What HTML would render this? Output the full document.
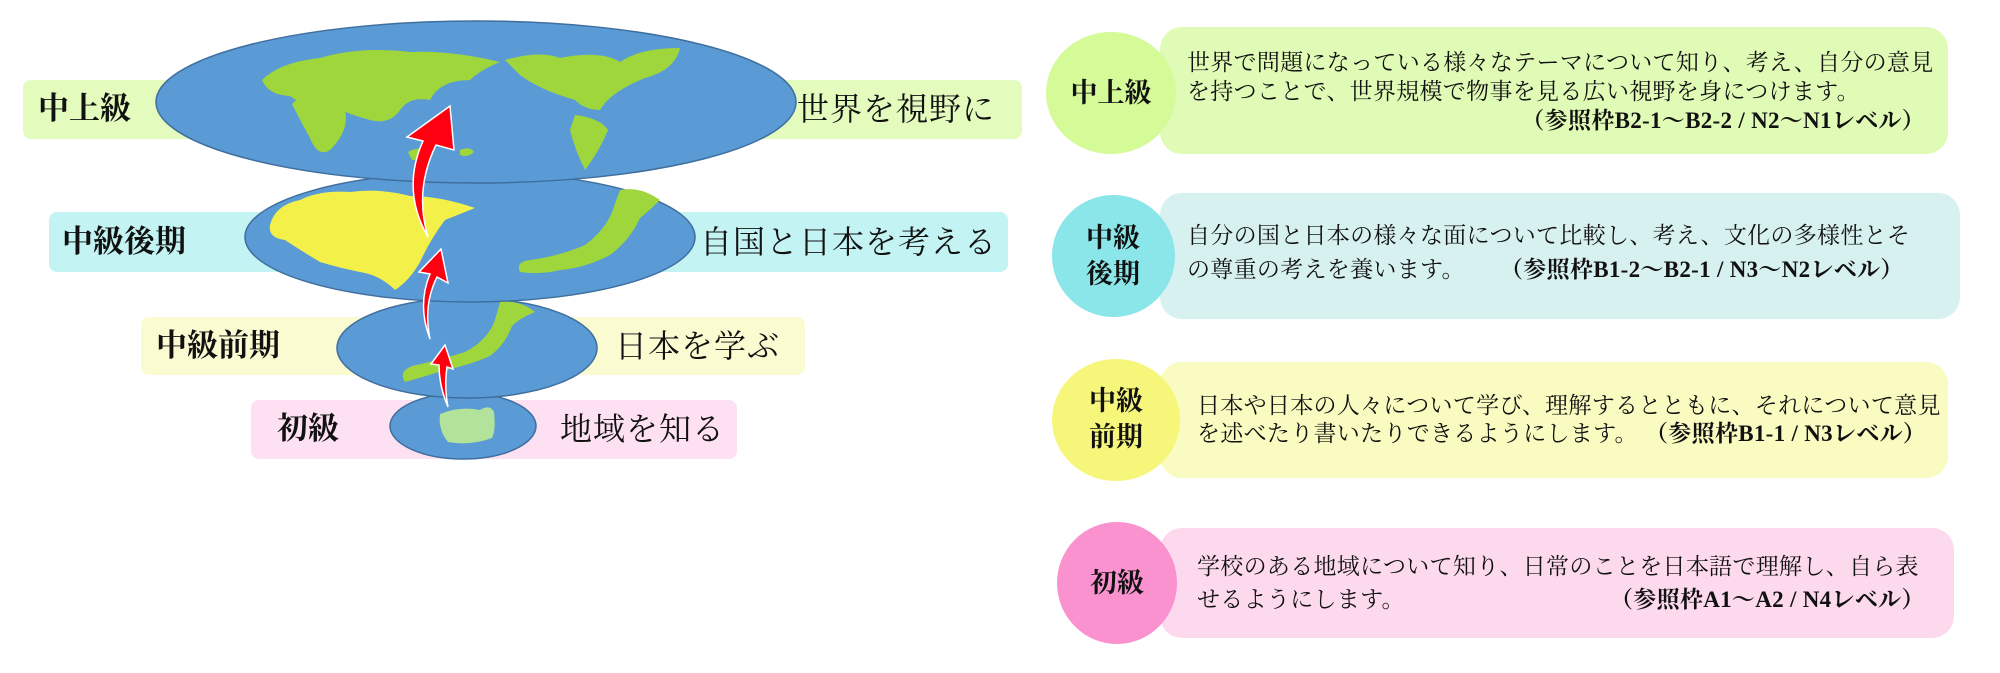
<!DOCTYPE html>
<html><head><meta charset="utf-8"><style>
body{margin:0;width:2000px;height:673px;background:#fff;position:relative;overflow:hidden;font-family:"Liberation Serif","Noto Serif CJK JP",serif;color:#111}
.a{position:absolute;white-space:nowrap}
.band{position:absolute;border-radius:8px}
.lb{font-weight:bold;font-size:31px;line-height:1}
.lr{font-size:32px;line-height:1;letter-spacing:1px}
.box{position:absolute;border-radius:22px}
.cir{position:absolute;border-radius:50%}
.cl{position:absolute;font-weight:bold;font-size:27px;line-height:1.35;text-align:center;width:120px}
.t{font-size:23px;line-height:1;letter-spacing:0.3px}
.t b{font-weight:bold}
</style></head><body>
<div class="band" style="left:23px;top:80px;width:999px;height:59px;background:#e3fbbd"></div>
<div class="band" style="left:49px;top:212px;width:959px;height:60px;background:#c3f3f3"></div>
<div class="band" style="left:141px;top:317px;width:664px;height:58px;background:#fbfbd2"></div>
<div class="band" style="left:251px;top:400px;width:486px;height:59px;background:#fde0f1"></div>

<svg class="a" style="left:0;top:0" width="1040" height="480" viewBox="0 0 1040 480">
<g stroke="#3f6f9e" stroke-width="1.5" fill="#5b9bd5">
<ellipse cx="463" cy="426" rx="73" ry="33"/>
<ellipse cx="467" cy="348" rx="130" ry="50"/>
<ellipse cx="470" cy="237" rx="225" ry="65"/>
<ellipse cx="476" cy="102" rx="320" ry="81"/>
</g>
<g fill="#9fd63c">
<path d="M262 80 Q280 62 320 58 Q360 46 410 52 Q450 50 500 62 Q480 70 470 80 Q440 80 430 100 Q410 96 400 110 Q390 125 370 120 Q350 115 330 105 Q300 105 290 96 Q268 95 262 80Z"/>
<path d="M300 96 Q330 100 345 110 Q350 130 330 150 Q318 158 310 138 Q300 120 292 104Z"/>
<path d="M505 60 Q540 50 560 58 Q600 50 620 62 Q640 48 680 48 Q675 70 645 78 Q610 92 600 110 Q585 110 575 100 Q540 90 520 75Z"/>
<path d="M575 115 Q600 118 608 130 Q600 150 585 170 Q575 150 570 130Z"/>
<path d="M408 152 Q418 146 430 150 Q425 160 412 160Z"/>
<path d="M460 150 Q470 146 474 152 Q468 158 460 155Z"/>
</g>
<path fill="#f4f04a" d="M270 225 Q275 205 300 200 Q320 190 350 192 Q380 188 410 196 Q440 196 475 208 Q460 214 445 220 Q430 240 420 262 Q410 280 395 290 Q380 275 360 272 Q340 268 320 262 Q300 250 285 240 Q268 238 270 225Z"/>
<g fill="#9fd63c">
<path d="M620 190 Q640 186 660 200 Q650 210 640 218 Q630 240 610 255 Q585 268 560 270 Q540 275 520 272 Q515 262 530 260 Q560 256 585 245 Q605 230 612 212Z"/>
</g>
<path fill="#9fd63c" d="M500 302 Q520 300 535 312 Q520 318 512 326 Q505 345 490 356 Q470 365 445 370 Q420 378 405 382 Q398 372 412 366 Q440 360 465 352 Q488 340 495 320Z"/>
<path fill="#b3e39a" d="M440 414 Q460 406 480 410 Q490 404 494 412 Q496 430 492 438 Q470 446 448 442 Q438 430 440 414Z"/>
<g fill="#ff0010" stroke="#fff" stroke-width="1.5">
<path d="M450 106 L407 137 L423 141 Q401 190 428 237 Q414 190 436 145 L454 150 Z"/>
<path d="M441 249 L419 272 L430 274 Q417 305 430 339 Q423 305 437 277 L448 283 Z"/>
<path d="M445 345 L431 364 L439 365 Q439 386 448 407 Q444 386 447 367 L453 369 Z"/>
</g>
</svg>

<div class="a lb" style="left:38px;top:93px">中上級</div>
<div class="a lr" style="left:797px;top:93px">世界を視野に</div>
<div class="a lb" style="left:62px;top:226px">中級後期</div>
<div class="a lr" style="left:700px;top:226px">自国と日本を考える</div>
<div class="a lb" style="left:156px;top:330px">中級前期</div>
<div class="a lr" style="left:615px;top:330px">日本を学ぶ</div>
<div class="a lb" style="left:277px;top:413px">初級</div>
<div class="a lr" style="left:560px;top:413px">地域を知る</div>

<div class="box" style="left:1160px;top:27px;width:788px;height:127px;background:#e0fbb6"></div>
<div class="cir" style="left:1046px;top:32px;width:130px;height:122px;background:#d5fa98"></div>
<div class="cl" style="left:1051px;top:75px">中上級</div>
<div class="a t" style="left:1187px;top:51px">世界で問題になっている様々なテーマについて知り、考え、自分の意見</div>
<div class="a t" style="left:1187px;top:80px">を持つことで、世界規模で物事を見る広い視野を身につけます。</div>
<div class="a t" style="right:75px;top:109px"><b>（参照枠B2-1～B2-2 / N2～N1レベル）</b></div>

<div class="box" style="left:1160px;top:193px;width:800px;height:126px;background:#d7f1f0"></div>
<div class="cir" style="left:1052px;top:195px;width:123px;height:122px;background:#8be6e9"></div>
<div class="cl" style="left:1053px;top:220px">中級<br>後期</div>
<div class="a t" style="left:1187px;top:224px">自分の国と日本の様々な面について比較し、考え、文化の多様性とそ</div>
<div class="a t" style="left:1187px;top:258px">の尊重の考えを養います。</div>
<div class="a t" style="left:1500px;top:258px"><b>（参照枠B1-2～B2-1 / N3～N2レベル）</b></div>

<div class="box" style="left:1160px;top:362px;width:788px;height:116px;background:#f9fbc0"></div>
<div class="cir" style="left:1052px;top:359px;width:128px;height:122px;background:#f6f67a"></div>
<div class="cl" style="left:1056px;top:383px">中級<br>前期</div>
<div class="a t" style="left:1197px;top:394px">日本や日本の人々について学び、理解するとともに、それについて意見</div>
<div class="a t" style="left:1197px;top:422px">を述べたり書いたりできるようにします。</div>
<div class="a t" style="left:1645px;top:422px"><b>（参照枠B1-1 / N3レベル）</b></div>

<div class="box" style="left:1160px;top:528px;width:794px;height:110px;background:#fdd9ee"></div>
<div class="cir" style="left:1057px;top:522px;width:120px;height:122px;background:#fb92d0"></div>
<div class="cl" style="left:1057px;top:565px">初級</div>
<div class="a t" style="left:1197px;top:555px">学校のある地域について知り、日常のことを日本語で理解し、自ら表</div>
<div class="a t" style="left:1197px;top:588px">せるようにします。</div>
<div class="a t" style="left:1610px;top:588px"><b>（参照枠A1～A2 / N4レベル）</b></div>
</body></html>
